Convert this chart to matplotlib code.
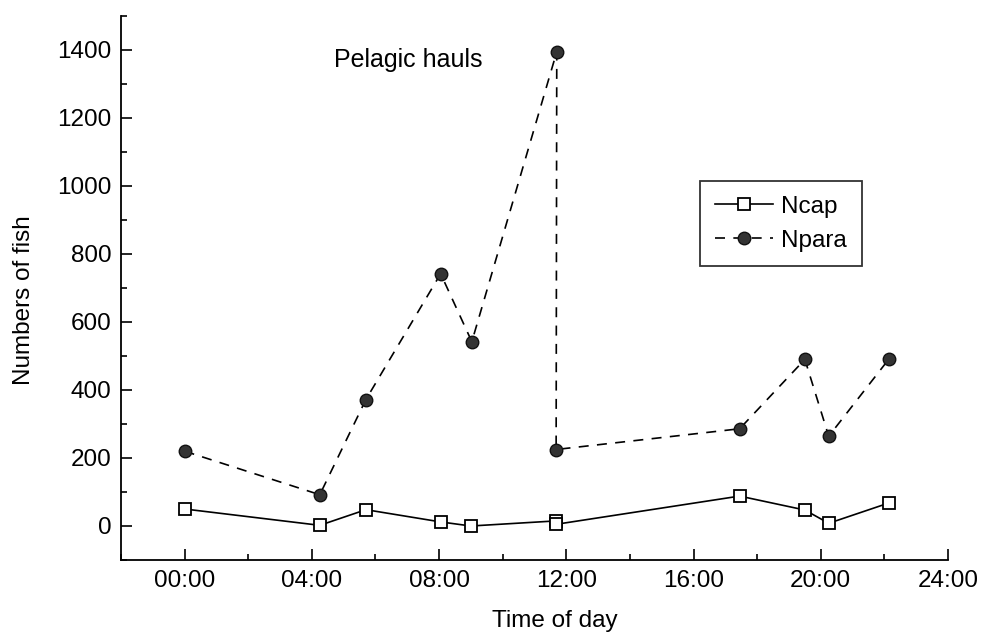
#!/usr/bin/env python3
import numpy as np
import matplotlib
matplotlib.use("Agg")
import matplotlib.pyplot as plt
from matplotlib.ticker import MultipleLocator, FuncFormatter

# Sampling times in hours after midnight
ncap_hours = [0.0, 4.25, 5.7, 8.05, 9.0, 11.68, 11.68, 17.45, 19.5, 20.25, 22.15]
ncap_values = [50, 2, 48, 12, 0, 15, 5, 88, 47, 8, 68]

npara_hours = [0.0, 4.25, 5.7, 8.05, 9.03, 11.7, 11.68, 17.45, 19.5, 20.25, 22.15]
npara_values = [220, 92, 372, 742, 542, 1395, 225, 286, 490, 264, 492]

x_ticks = [0, 4, 8, 12, 16, 20, 24]


def hh_mm(h, pos):
    return f"{int(h):02d}:00"


def main():
    plt.rcParams["font.family"] = ["Liberation Sans", "DejaVu Sans"]
    fs = 17.5

    fig = plt.figure(figsize=(9.81, 6.37), dpi=100)
    # axes box in pixels: x 121..948, y 16..560
    ax = fig.add_axes([121 / 981, 77 / 637, 827 / 981, 544 / 637])

    ax.plot(ncap_hours, ncap_values, color="black", linewidth=1.2,
            marker="s", markersize=9, markerfacecolor="white",
            markeredgecolor="black", markeredgewidth=1.3, label="Ncap")
    ax.plot(npara_hours, npara_values, color="black", linewidth=1.2,
            linestyle=(0, (6, 5)),
            marker="o", markersize=9, markerfacecolor="#333333",
            markeredgecolor="#111111", label="Npara")

    ax.set_xlim(-2, 24)
    ax.set_ylim(-100, 1500)
    ax.set_xticks(x_ticks)
    ax.xaxis.set_major_formatter(FuncFormatter(hh_mm))
    ax.xaxis.set_minor_locator(MultipleLocator(2))
    ax.set_yticks(range(0, 1401, 200))
    ax.yaxis.set_minor_locator(MultipleLocator(100))

    ax.spines["top"].set_visible(False)
    ax.spines["right"].set_visible(False)
    for s in ("left", "bottom"):
        ax.spines[s].set_linewidth(1.3)

    ax.tick_params(which="major", direction="in", length=8, width=1.2,
                   labelsize=fs, pad=7)
    ax.tick_params(which="minor", direction="in", length=4, width=1.2)

    ax.set_xlabel("Time of day", fontsize=fs)
    ax.xaxis.set_label_coords(0.525, -0.092)
    ax.set_ylabel("Numbers of fish", fontsize=fs)
    ax.yaxis.set_label_coords(-0.104, 0.478)

    ax.text(4.7, 1370, "Pelagic hauls", fontsize=18, va="center", ha="left")

    leg = ax.legend(loc="upper left",
                    bbox_to_anchor=(700 / 981, 1 - 181 / 637),
                    bbox_transform=fig.transFigure,
                    fontsize=fs, frameon=True, fancybox=False,
                    edgecolor="black", handlelength=2.4, handletextpad=0.35,
                    borderpad=0.6, borderaxespad=0, labelspacing=0.5)
    leg.get_frame().set_linewidth(1.3)

    fig.savefig("out.png", dpi=100)
    plt.close("all")


if __name__ == "__main__":
    main()
